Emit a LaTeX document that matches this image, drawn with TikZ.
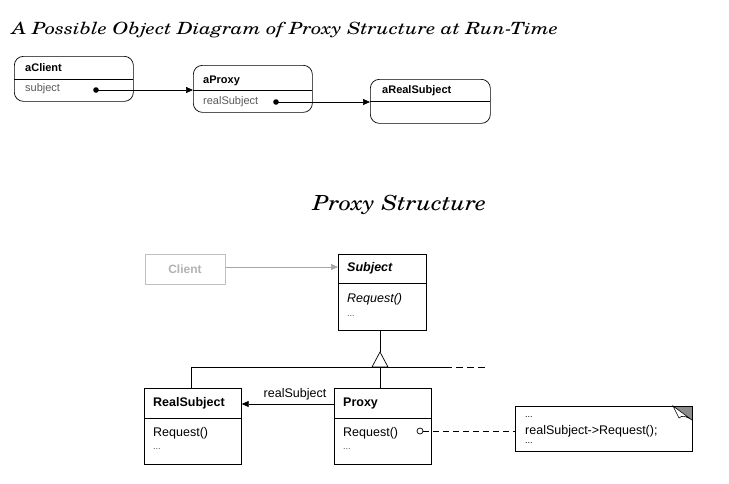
\documentclass[tikz,border=0pt]{standalone}
\usepackage{fontspec}
\setsansfont{Liberation Sans}
\newfontfamily\titlefont[FakeStretch=1.21]{texgyreschola-italic.otf}
\newfontfamily\subtitlefont[FakeStretch=1.16]{texgyreschola-italic.otf}
\usetikzlibrary{arrows.meta}
\begin{document}
\begin{tikzpicture}[x=1pt,y=-1pt,
  obj/.style={draw, rounded corners=9pt, line width=0.7pt, inner sep=0pt, anchor=north west},
  cls/.style={draw, line width=0.7pt, inner sep=0pt, anchor=north west},
  lbl/.style={anchor=west, inner sep=0pt, font=\sffamily\fontsize{11}{13}\selectfont},
  blbl/.style={lbl, font=\sffamily\bfseries\fontsize{11}{13}\selectfont},
  txt/.style={anchor=west, inner sep=0pt, font=\sffamily\fontsize{12.5}{14}\selectfont},
  btxt/.style={txt, font=\sffamily\bfseries\fontsize{12.5}{14}\selectfont},
  conn/.style={line width=0.7pt, -{Triangle[length=7pt,width=6pt]}},
  divider/.style={line width=0.7pt}
]
\useasboundingbox (0,0) rectangle (729,483);
% Titles
\node[anchor=west, inner sep=0pt, font=\titlefont\fontsize{16.8}{20}\selectfont] (title1) at (12,30) {A Possible Object Diagram of Proxy Structure at Run-Time};
\node[inner sep=0pt, font=\subtitlefont\fontsize{20.8}{24}\selectfont] (title2) at (399.5,205) {Proxy Structure};

% Object diagram
\node[obj, minimum width=119pt, minimum height=45pt] (aclient) at (14,56) {};
\draw[divider] (14,79) -- (133,79);
\node[blbl] (aclientT) at (25,68) {aClient};
\node[lbl, text=black!65] (aclientS) at (25,89) {subject};
\fill (96,90) circle (2.8pt);
\coordinate (d1) at (96,90);

\node[obj, minimum width=119pt, minimum height=47pt] (aproxy) at (193,65) {};
\draw[divider] (193,90) -- (312,90);
\node[blbl] (aproxyT) at (203,81) {aProxy};
\node[lbl, text=black!65] (aproxyS) at (203,102) {realSubject};
\fill (276,102) circle (2.8pt);
\coordinate (d2) at (276,102);

\node[obj, minimum width=120pt, minimum height=44pt] (areal) at (370,79) {};
\draw[divider] (370,101) -- (490,101);
\node[blbl] (arealT) at (382,91) {aRealSubject};

\draw[conn] (d1) -- (aproxy.west |- d1);
\draw[conn] (d2) -- (areal.west |- d2);

% Class diagram
\node[cls, draw=black!25, minimum width=80pt, minimum height=30pt] (client) at (145,254) {};
\node[inner sep=0pt, text=black!30, font=\sffamily\bfseries\fontsize{12}{14}\selectfont] (clientT) at (185,269) {Client};

\node[cls, minimum width=88pt, minimum height=76pt] (subject) at (338,254) {};
\draw[divider] (338,283) -- (426,283);
\node[btxt, font=\sffamily\bfseries\itshape\fontsize{12.5}{14}\selectfont] (subjectT) at (347,268) {Subject};
\node[txt, font=\sffamily\itshape\fontsize{12.5}{14}\selectfont] (subjectR) at (347,299) {Request()};
\node[txt, font=\sffamily\fontsize{9}{10}\selectfont, text=black!70] (subjectD) at (347,316) {...};

\draw[line width=0.7pt, draw=black!35, -{Triangle[length=7pt,width=6pt]}] (client.east |- 0,267) -- (subject.west |- 0,267);

\node[cls, minimum width=97pt, minimum height=76pt] (realsub) at (144,388) {};
\draw[divider] (144,418) -- (241,418);
\node[btxt] (realsubT) at (153,403) {RealSubject};
\node[txt] (realsubR) at (153,433) {Request()};
\node[txt, font=\sffamily\fontsize{9}{10}\selectfont, text=black!70] (realsubD) at (153,449) {...};

\node[cls, minimum width=97pt, minimum height=76pt] (proxy) at (334,388) {};
\draw[divider] (334,418) -- (431,418);
\node[btxt] (proxyT) at (343,403) {Proxy};
\node[txt] (proxyR) at (343,433) {Request()};
\node[txt, font=\sffamily\fontsize{9}{10}\selectfont, text=black!70] (proxyD) at (343,449) {...};

% inheritance
\coordinate (apex) at (380,352);
\coordinate (hl) at (191,367);
\coordinate (hr) at (445,367);
\coordinate (hd) at (487,367);
\draw[line width=0.7pt] (subject.south -| apex) -- (apex);
\draw[line width=0.7pt, fill=white] (372,367) -- (apex) -- (388,367) -- cycle;
\draw[line width=0.7pt] (hl) -- (hr);
\draw[line width=0.7pt, dash pattern=on 7pt off 4pt] (hr) -- (hd);
\draw[line width=0.7pt] (hl) -- (hl |- realsub.north);
\draw[line width=0.7pt] (380,367) -- (380,388);

% association
\draw[conn] (proxy.west |- 0,404) -- (realsub.east |- 0,404);
\node[inner sep=0pt, font=\sffamily\fontsize{12.5}{14}\selectfont] (assocL) at (295,394) {realSubject};

% note
\node[cls, minimum width=177pt, minimum height=45pt] (note) at (515,406) {};
\fill[black!45] (673,406) -- (692,406) -- (692,420) -- cycle;
\draw[line width=0.6pt, fill=white] (673,406) -- (692,420) .. controls (686,416) and (682,415) .. (679,418) -- cycle;
\draw[line width=0.7pt] (note.north west) rectangle (note.south east);
\node[txt, font=\sffamily\fontsize{9}{10}\selectfont] (noteD1) at (525,417) {...};
\node[txt] (noteT) at (525,431) {realSubject->Request();};
\node[txt, font=\sffamily\fontsize{9}{10}\selectfont] (noteD2) at (525,443) {...};

\draw[line width=0.7pt] (420,431) circle (3pt);
\coordinate (circ) at (423,431);
\draw[line width=0.7pt, dash pattern=on 6pt off 4pt] (circ) -- (note.west |- circ);
\end{tikzpicture}
\end{document}
